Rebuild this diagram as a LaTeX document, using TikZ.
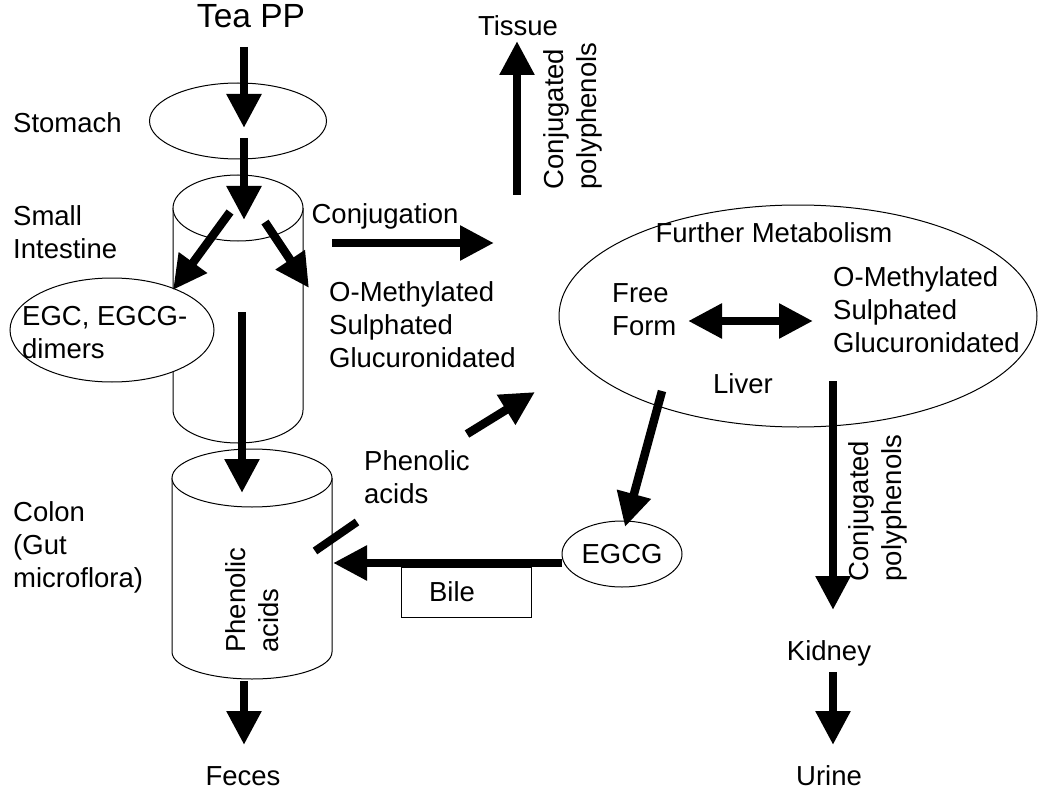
\documentclass[tikz,border=0pt]{standalone}
\usepackage{fontspec}
\setmainfont{Liberation Sans}
\usetikzlibrary{arrows.meta,shapes.geometric}

\begin{document}
\begin{tikzpicture}[
			x=1pt, y=1pt,
			every node/.style={font=\fontsize{27.5}{33}\selectfont, inner sep=0pt},
			tag/.style={anchor=west, align=left},
			organ/.style={draw, line width=1pt, fill=white},
			flow/.style={line width=8.5pt, -{Triangle[length=34pt,width=33pt]}},
			twoway/.style={line width=8.5pt, {Triangle[length=34pt,width=33pt]}-{Triangle[length=34pt,width=33pt]}}
			]
			\useasboundingbox (0,0) rectangle (1050,-797);
			\draw[organ] (173,-208) -- (173,-410) arc[start angle=180, end angle=360, x radius=65, y radius=33] -- (303,-208);
			\draw[organ] (238,-208) ellipse[x radius=65, y radius=33];
			\draw[organ] (172,-478) -- (172,-652) arc[start angle=180, end angle=360, x radius=80, y radius=27] -- (332,-478);
			\draw[organ] (252,-478) ellipse[x radius=80, y radius=29];
			\node[organ, ellipse, minimum width=177pt, minimum height=76pt] (stomach) at (238,-121) {};
			\node[organ, ellipse, minimum width=204pt, minimum height=104pt] (egc) at (112,-330) {};
			\node[organ, ellipse, minimum width=478pt, minimum height=222pt] (liver) at (798,-316) {};
			\node[organ, ellipse, minimum width=120pt, minimum height=66pt] (egcg) at (622,-554) {EGCG};
			\node[organ, minimum width=130pt, minimum height=50pt] (bilebox) at (466,-592) {};
			\node (bile) at (452,-592) {Bile};
			\node[font=\fontsize{33.5}{40}\selectfont, anchor=base] (tea) at (251,-28) {Tea PP};
			\node[anchor=base] (tissue) at (518,-36) {Tissue};
			\node[anchor=base west] (stomachtag) at (13,-133) {Stomach};
			\node[tag] (smalltag) at (13,-232) {Small\\Intestine};
			\node[tag] (colontag) at (13,-547) {Colon\\(Gut\\microflora)};
			\node[tag] (egctext) at (22,-333) {EGC, EGCG-\\dimers};
			\node[anchor=base] (conj) at (385,-223) {Conjugation};
			\node[tag] (methleft) at (329,-325) {O-Methylated\\Sulphated\\Glucuronidated};
			\node[anchor=base] (further) at (774,-242) {Further Metabolism};
			\node[tag] (free) at (612,-310) {Free\\Form};
			\node[tag] (methright) at (833,-310) {O-Methylated\\Sulphated\\Glucuronidated};
			\node[anchor=base] (livertag) at (743,-393) {Liver};
			\node[tag] (phenol) at (364,-477) {Phenolic\\acids};
			\node[rotate=90, align=left] (tissuepoly) at (573,-116) {Conjugated\\polyphenols};
			\node[rotate=90, align=left] (kidneypoly) at (878,-508) {Conjugated\\polyphenols};
			\node[rotate=90, align=left] (colonacids) at (252,-600) {Phenolic\\acids};
			\node[anchor=base] (kidney) at (829,-660) {Kidney};
			\node[anchor=base] (urine) at (829,-785) {Urine};
			\node[anchor=base] (feces) at (243,-785) {Feces};
			\coordinate (teaout) at (244,-47);
			\coordinate (stomachin) at (244,-128);
			\coordinate (stomachout) at (244,-138);
			\coordinate (smallin) at (244,-220);
			\coordinate (smallleft) at (230,-212);
			\coordinate (egcin) at (173,-290);
			\coordinate (smallright) at (265,-222);
			\coordinate (methin) at (309,-288);
			\coordinate (smallout) at (242,-312);
			\coordinate (colonin) at (242,-493);
			\coordinate (colonout) at (244,-681);
			\coordinate (fecesin) at (244,-745);
			\coordinate (conjout) at (332,-243);
			\coordinate (conjin) at (494,-243);
			\coordinate (tissueout) at (517,-195);
			\coordinate (tissuein) at (517,-41);
			\coordinate (phenolout) at (467,-434);
			\coordinate (phenolin) at (535,-392);
			\coordinate (freeside) at (688,-321);
			\coordinate (methside) at (813,-321);
			\coordinate (liverleft) at (662,-391);
			\coordinate (egcgin) at (625,-527);
			\coordinate (bileout) at (562,-563);
			\coordinate (bilein) at (333,-563);
			\coordinate (slasha) at (315,-551);
			\coordinate (slashb) at (357,-522);
			\coordinate (liverright) at (833,-381);
			\coordinate (kidneyin) at (833,-610);
			\coordinate (kidneyout) at (833,-672);
			\coordinate (urinein) at (833,-745);
			\draw[flow] (teaout) -- (stomachin);
			\draw[flow] (stomachout) -- (smallin);
			\draw[flow] (smallleft) -- (egcin);
			\draw[flow] (smallright) -- (methin);
			\draw[flow] (smallout) -- (colonin);
			\draw[flow] (colonout) -- (fecesin);
			\draw[flow] (conjout) -- (conjin);
			\draw[flow] (tissueout) -- (tissuein);
			\draw[flow] (phenolout) -- (phenolin);
			\draw[twoway] (freeside) -- (methside);
			\draw[flow] (liverleft) -- (egcgin);
			\draw[flow] (bileout) -- (bilein);
			\draw[line width=8pt] (slasha) -- (slashb);
			\draw[flow] (liverright) -- (kidneyin);
			\draw[flow] (kidneyout) -- (urinein);
		\end{tikzpicture}
\end{document}
